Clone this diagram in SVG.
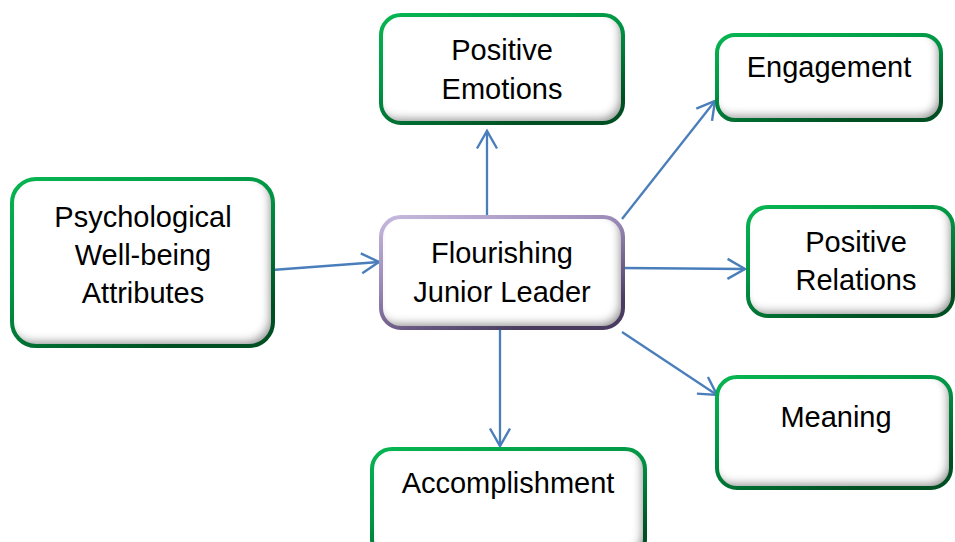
<svg xmlns="http://www.w3.org/2000/svg" width="955" height="542" viewBox="0 0 955 542">
  <style>
    .box { fill: #ffffff; filter: url(#inset); }
    .green { fill: none; stroke: url(#greenEdge); stroke-width: 4; }
    .purple { fill: none; stroke: url(#purpleEdge); stroke-width: 4; }
    .label { font-family: "Liberation Sans", Arial, sans-serif; font-size: 29px; fill: #000000; text-anchor: middle; }
    .link { fill: none; stroke: #4A7EBB; stroke-width: 2.3; marker-end: url(#arrow); }
  </style>
  <defs>
    <linearGradient id="greenEdge" x1="0" y1="0" x2="0.6" y2="1">
      <stop offset="0" stop-color="#08B552"/>
      <stop offset="0.5" stop-color="#009444"/>
      <stop offset="1" stop-color="#004F22"/>
    </linearGradient>
    <linearGradient id="purpleEdge" x1="0" y1="0" x2="0.6" y2="1">
      <stop offset="0" stop-color="#C6B9DE"/>
      <stop offset="0.5" stop-color="#9584B2"/>
      <stop offset="1" stop-color="#4A3B60"/>
    </linearGradient>
    <!-- soft shading along the inner bottom/right edges -->
    <filter id="inset" x="-10%" y="-10%" width="120%" height="120%">
      <feComponentTransfer in="SourceAlpha" result="inv">
        <feFuncA type="table" tableValues="1 0"/>
      </feComponentTransfer>
      <feGaussianBlur in="inv" stdDeviation="4"/>
      <feOffset dx="-4" dy="-5" result="shift"/>
      <feFlood flood-color="#000000" flood-opacity="0.7"/>
      <feComposite in2="shift" operator="in"/>
      <feComposite in2="SourceAlpha" operator="in" result="shade"/>
      <feMerge>
        <feMergeNode in="SourceGraphic"/>
        <feMergeNode in="shade"/>
      </feMerge>
    </filter>
    <marker id="arrow" markerUnits="userSpaceOnUse" markerWidth="22" markerHeight="24" viewBox="0 0 22 24" refX="19" refY="12" orient="auto">
      <path d="M1.5,2 L19,12 L1.5,22" fill="none" stroke="#4A7EBB" stroke-width="2.4"/>
    </marker>
  </defs>

  <g id="connectors">
    <line class="link" x1="272" y1="270" x2="379" y2="262"/>
    <line class="link" x1="487" y1="215" x2="487" y2="131"/>
    <line class="link" x1="622" y1="219" x2="715" y2="101"/>
    <line class="link" x1="623" y1="268" x2="745" y2="269"/>
    <line class="link" x1="622" y1="332" x2="717" y2="395"/>
    <line class="link" x1="500" y1="330" x2="500" y2="446"/>
  </g>

  <g id="psychological-well-being">
    <rect class="box" x="12" y="179" width="261" height="167" rx="24"/>
    <rect class="green" x="12" y="179" width="261" height="167" rx="24"/>
    <text class="label" x="143" y="227">Psychological</text>
    <text class="label" x="143" y="265">Well-being</text>
    <text class="label" x="143" y="303">Attributes</text>
  </g>

  <g id="flourishing-junior-leader">
    <rect class="box" x="381" y="217" width="242" height="111" rx="20"/>
    <rect class="purple" x="381" y="217" width="242" height="111" rx="20"/>
    <text class="label" x="502" y="263">Flourishing</text>
    <text class="label" x="502" y="302">Junior Leader</text>
  </g>

  <g id="positive-emotions">
    <rect class="box" x="381" y="15" width="242" height="108" rx="20"/>
    <rect class="green" x="381" y="15" width="242" height="108" rx="20"/>
    <text class="label" x="502" y="60">Positive</text>
    <text class="label" x="502" y="99">Emotions</text>
  </g>

  <g id="engagement">
    <rect class="box" x="717" y="35" width="224" height="85" rx="18"/>
    <rect class="green" x="717" y="35" width="224" height="85" rx="18"/>
    <text class="label" x="829" y="77">Engagement</text>
  </g>

  <g id="positive-relations">
    <rect class="box" x="748" y="207" width="205" height="109" rx="20"/>
    <rect class="green" x="748" y="207" width="205" height="109" rx="20"/>
    <text class="label" x="856" y="252">Positive</text>
    <text class="label" x="856" y="290">Relations</text>
  </g>

  <g id="meaning">
    <rect class="box" x="717" y="377" width="234" height="111" rx="20"/>
    <rect class="green" x="717" y="377" width="234" height="111" rx="20"/>
    <text class="label" x="836" y="427">Meaning</text>
  </g>

  <g id="accomplishment">
    <rect class="box" x="372" y="449" width="273" height="110" rx="20"/>
    <rect class="green" x="372" y="449" width="273" height="110" rx="20"/>
    <text class="label" x="508" y="493">Accomplishment</text>
  </g>
</svg>
